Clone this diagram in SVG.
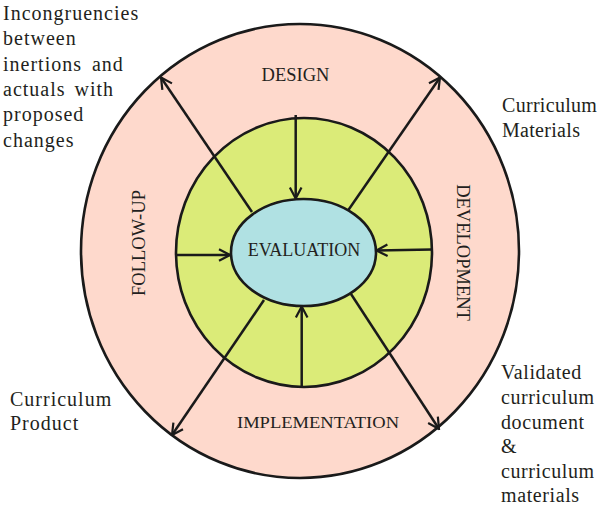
<svg xmlns="http://www.w3.org/2000/svg" width="603" height="518" viewBox="0 0 603 518">
  <style>
    .ring { stroke: #1a1a1a; stroke-width: 2.6; }
    .lbl { font-family: "Liberation Serif", "Times New Roman", serif; fill: #231f20; }
    .ringlbl { font-size: 18.5px; text-anchor: middle; }
    .note { font-size: 20px; letter-spacing: 1px; }
    .conn { stroke: #1a1a1a; stroke-width: 2.5; fill: none; marker-end: url(#arr); }
  </style>
  <defs>
    <marker id="arr" viewBox="0 0 14 14" refX="12.5" refY="7" markerWidth="14" markerHeight="14" markerUnits="userSpaceOnUse" orient="auto">
      <path d="M1.5,1.2 L12.5,7 L1.5,12.8" fill="none" stroke="#1a1a1a" stroke-width="2.2" stroke-linejoin="miter"/>
    </marker>
  </defs>
  <rect width="603" height="518" fill="#ffffff"/>

  <g id="outer-ring">
    <ellipse class="ring" cx="300" cy="251" rx="219" ry="227" fill="#fed9cc"/>
  </g>
  <g id="inner-ring">
    <ellipse class="ring" cx="304" cy="252.5" rx="128" ry="134.5" fill="#dbeb78"/>
  </g>

  <g id="connectors">
    <line class="conn" x1="252" y1="212" x2="161" y2="77.5"/>
    <line class="conn" x1="347" y1="212" x2="440" y2="77.5"/>
    <line class="conn" x1="295.7" y1="115" x2="295.7" y2="198.5"/>
    <line class="conn" x1="176.5" y1="255" x2="230" y2="255"/>
    <line class="conn" x1="432" y1="249.5" x2="376.5" y2="250.5"/>
    <line class="conn" x1="264" y1="300" x2="172" y2="435"/>
    <line class="conn" x1="301.7" y1="387" x2="301.7" y2="306.5"/>
    <line class="conn" x1="351" y1="294" x2="439" y2="429"/>
  </g>

  <g id="evaluation">
    <ellipse class="ring" cx="303.5" cy="252.5" rx="72.5" ry="53.5" fill="#b0e1e3"/>
    <text class="lbl" x="304" y="255.5" font-size="18" text-anchor="middle">EVALUATION</text>
  </g>

  <g id="design">
    <text class="lbl ringlbl" x="295.5" y="81">DESIGN</text>
  </g>
  <g id="development">
    <text class="lbl ringlbl" transform="translate(457,252.5) rotate(90)">DEVELOPMENT</text>
  </g>
  <g id="implementation">
    <text class="lbl" x="318" y="428" font-size="17" text-anchor="middle" textLength="162" lengthAdjust="spacingAndGlyphs">IMPLEMENTATION</text>
  </g>
  <g id="follow-up">
    <text class="lbl ringlbl" transform="translate(145,243) rotate(-90)">FOLLOW-UP</text>
  </g>

  <g id="note-incongruencies">
    <text class="lbl note" x="3">
      <tspan x="3" y="19.5">Incongruencies</tspan>
      <tspan x="3" y="45">between</tspan>
      <tspan x="3" y="70.5" word-spacing="4">inertions and</tspan>
      <tspan x="3" y="96" word-spacing="3">actuals with</tspan>
      <tspan x="3" y="121">proposed</tspan>
      <tspan x="3" y="146.5">changes</tspan>
    </text>
  </g>
  <g id="note-materials">
    <text class="lbl note" x="502" style="letter-spacing:0.3px">
      <tspan x="502" y="112">Curriculum</tspan>
      <tspan x="502" y="137">Materials</tspan>
    </text>
  </g>
  <g id="note-product">
    <text class="lbl note" x="10">
      <tspan x="10" y="406">Curriculum</tspan>
      <tspan x="10" y="430">Product</tspan>
    </text>
  </g>
  <g id="note-validated">
    <text class="lbl note" x="501" style="letter-spacing:0.6px">
      <tspan x="501" y="379">Validated</tspan>
      <tspan x="501" y="404">curriculum</tspan>
      <tspan x="501" y="428.5">document</tspan>
      <tspan x="501" y="453">&amp;</tspan>
      <tspan x="501" y="477.5">curriculum</tspan>
      <tspan x="501" y="502">materials</tspan>
    </text>
  </g>
</svg>
